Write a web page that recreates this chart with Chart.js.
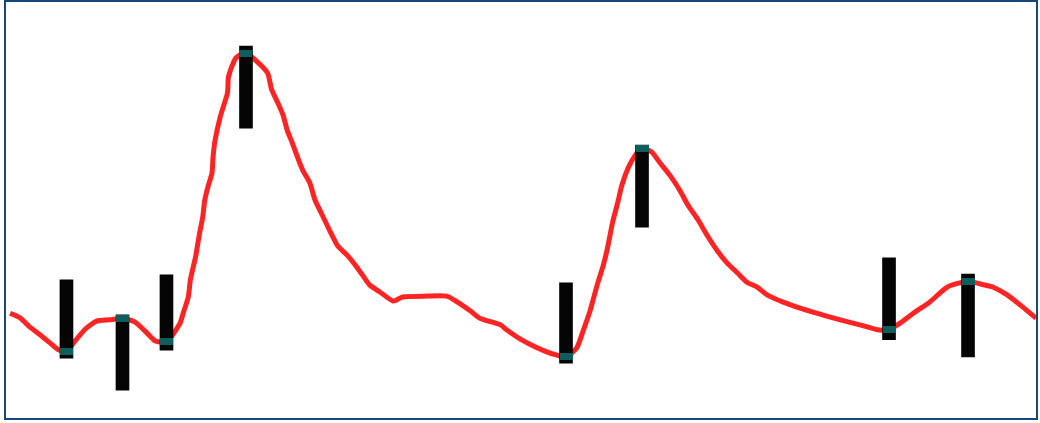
<!DOCTYPE html>
<html>
<head>
<meta charset="utf-8">
<script src="https://cdn.jsdelivr.net/npm/chart.js@4/dist/chart.umd.min.js"></script>
<style>
  html, body { margin: 0; padding: 0; background: #ffffff; }
  body { width: 1040px; height: 423px; position: relative; overflow: hidden; }
  #frame {
    position: absolute; left: 4px; top: 0px;
    width: 1030px; height: 416px;
    border: 2px solid #17467a;
    background: #ffffff;
  }
  #chart { display: block; }
</style>
</head>
<body>
<div id="frame"><canvas id="chart" width="1030" height="416"></canvas></div>
<script>
// Signal trace: time (0-100) and amplitude (0-100)
const traceX = [
  0.4, 1.4, 2.3, 3.3, 4.3, 5.1, 5.87, 6.7, 7.7, 8.8, 10.1, 11.31, 12.5, 13.5, 14.5, 15.58,
  16.9, 17.2, 17.7, 17.9, 18.4, 18.8, 19.1, 19.3, 19.6, 20.0, 20.1, 20.3, 20.8, 21.5, 21.6,
  22.2, 22.7, 23.3, 24.4, 25.4, 25.8, 26.4, 26.9, 27.3, 27.8, 28.3, 28.8, 29.5, 30.0, 30.7,
  31.5, 32.2, 33.1, 33.9, 34.6, 35.3, 36.3, 37.6, 38.5, 40.9, 42.8, 43.8, 45.1, 46.0, 48.0,
  48.6, 49.9, 51.2, 52.5, 53.5, 54.37, 55.4, 56.0, 56.7, 57.4, 58.0, 58.4, 58.9, 59.4, 59.8,
  60.4, 61.1, 61.75, 62.7, 63.5, 64.5, 65.4, 66.2, 67.2, 68.1, 69.0, 70.0, 71.0, 71.9, 72.9,
  73.9, 75.4, 77.1, 78.7, 81.0, 82.9, 84.6, 85.73, 86.8, 88.1, 89.7, 91.4, 93.4, 94.6, 95.8,
  97.2, 98.7, 100.0
];
const traceY = [
  25.2, 24.0, 21.9, 20.0, 18.0, 16.4, 16.1, 18.5, 21.4, 23.3, 23.6, 24.0, 23.1, 20.9, 18.5, 18.3,
  22.8, 25.2, 29.1, 33.2, 38.7, 44.5, 48.3, 52.4, 55.5, 58.9, 62.7, 66.8, 72.4, 78.1, 82.0,
  86.1, 87.3, 87.7, 85.6, 82.9, 78.9, 75.7, 72.8, 69.2, 66.1, 62.7, 59.6, 56.5, 52.4, 48.8,
  44.7, 41.4, 39.2, 36.8, 34.4, 32.0, 30.3, 28.1, 29.1, 29.3, 29.3, 27.9, 25.7, 24.0, 22.4,
  21.2, 19.0, 17.3, 15.9, 15.1, 14.7, 16.8, 20.7, 25.7, 32.0, 36.8, 40.9, 47.1, 51.9, 56.0,
  60.1, 63.2, 64.9, 63.9, 61.3, 58.2, 54.8, 51.2, 47.6, 43.8, 40.4, 37.3, 34.9, 32.7, 31.5,
  29.6, 27.9, 26.4, 25.2, 23.6, 22.4, 21.2, 21.2, 22.8, 25.2, 27.9, 31.5, 32.9, 32.2, 31.5,
  29.6, 26.7, 24.0
];

// Annotated events: position, amplitude at the event, and the span of each event bar
const eventX    = [5.87, 11.31, 15.58, 23.3, 54.37, 61.75, 85.73, 93.4];
const eventY    = [16.1, 24.0, 18.3, 87.7, 14.7, 64.9, 21.2, 32.9];
const eventLow  = [14.4, 6.7, 16.3, 69.7, 13.2, 45.9, 18.8, 14.7];
const eventHigh = [33.2, 24.8, 34.4, 89.4, 32.5, 65.6, 38.5, 34.6];

const tracePoints = traceX.map((x, i) => ({ x, y: traceY[i] }));
const eventBars = eventX.map((x, i) => ({ x, y: [eventLow[i], eventHigh[i]] }));
const eventPoints = eventX.map((x, i) => ({ x, y: eventY[i] }));

// Flat teal cap used as the event marker glyph
const cap = document.createElement('canvas');
cap.width = 13;
cap.height = 7;
const capCtx = cap.getContext('2d');
capCtx.fillStyle = '#0f5e5e';
capCtx.fillRect(0, 0, 13, 7);

new Chart(document.getElementById('chart'), {
  type: 'line',
  data: {
    datasets: [
      {
        type: 'line',
        data: tracePoints,
        borderColor: '#ff2424',
        borderWidth: 5,
        pointRadius: 0,
        tension: 0.2,
        fill: false,
        order: 3
      },
      {
        type: 'bar',
        data: eventBars,
        backgroundColor: '#050505',
        borderWidth: 0,
        barThickness: 13,
        grouped: false,
        order: 2
      },
      {
        type: 'scatter',
        data: eventPoints,
        pointStyle: cap,
        pointRadius: 5,
        clip: false,
        order: 1
      }
    ]
  },
  options: {
    responsive: false,
    animation: false,
    layout: { padding: 0, autoPadding: false },
    plugins: { legend: { display: false }, tooltip: { enabled: false } },
    scales: {
      x: { type: 'linear', min: 0, max: 100, offset: false, display: false },
      y: { type: 'linear', min: 0, max: 100, display: false }
    }
  }
});
</script>
</body>
</html>
